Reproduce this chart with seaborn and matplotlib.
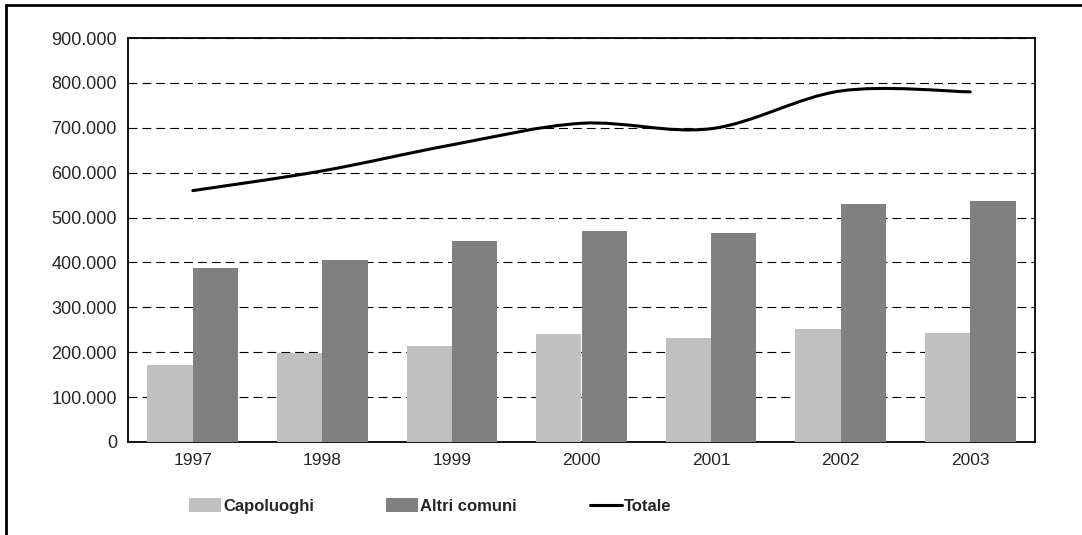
import numpy as np
import pandas as pd
import matplotlib
matplotlib.use("Agg")
import matplotlib.pyplot as plt
import seaborn as sns
from matplotlib.path import Path
from matplotlib.patches import PathPatch, Patch
from matplotlib.lines import Line2D
from matplotlib.ticker import FuncFormatter, MultipleLocator, FixedLocator

# data
anni = ["1997", "1998", "1999", "2000", "2001", "2002", "2003"]
capoluoghi = [172000, 199000, 214000, 240000, 232000, 252000, 243000]
altri_comuni = [388000, 405000, 448000, 470000, 466000, 530000, 537000]
totale = [560000, 604000, 662000, 710000, 698000, 782000, 780000]

COL_CAP = "#C0C0C0"
COL_ALT = "#808080"

sns.set_style("white")
plt.rcParams["font.family"] = ["Liberation Sans", "DejaVu Sans"]

df = pd.DataFrame({
    "anno": anni * 2,
    "valore": capoluoghi + altri_comuni,
    "serie": ["Capoluoghi"] * len(anni) + ["Altri comuni"] * len(anni),
})

fig = plt.figure(figsize=(10.82, 5.35), dpi=100)
ax = fig.add_axes([128 / 1082, 1 - 442 / 535, (1035 - 128) / 1082, (442 - 38) / 535])

sns.barplot(data=df, x="anno", y="valore", hue="serie",
            palette=[COL_CAP, COL_ALT], width=0.7, saturation=1,
            linewidth=0, legend=False, ax=ax, zorder=3)


def smooth_path(xs, ys):
    # Excel-like smoothed line: Catmull-Rom converted to cubic Bezier
    xs = np.asarray(xs, float)
    ys = np.asarray(ys, float)
    verts = [(xs[0], ys[0])]
    codes = [Path.MOVETO]
    n = len(xs)
    for i in range(n - 1):
        i0 = max(i - 1, 0)
        i3 = min(i + 2, n - 1)
        c1 = (xs[i] + (xs[i + 1] - xs[i0]) / 6, ys[i] + (ys[i + 1] - ys[i0]) / 6)
        c2 = (xs[i + 1] - (xs[i3] - xs[i]) / 6, ys[i + 1] - (ys[i3] - ys[i]) / 6)
        verts += [c1, c2, (xs[i + 1], ys[i + 1])]
        codes += [Path.CURVE4] * 3
    return Path(verts, codes)


ax.add_patch(PathPatch(smooth_path(range(len(anni)), totale), facecolor="none",
                       edgecolor="black", linewidth=2.2, zorder=4,
                       capstyle="round"))

ax.set_xlim(-0.5, len(anni) - 0.5)
ax.set_ylim(0, 900000)
ax.yaxis.set_major_locator(MultipleLocator(100000))
ax.yaxis.set_major_formatter(FuncFormatter(lambda v, p: f"{int(v):,}".replace(",", ".")))
ax.grid(axis="y", color="black", linestyle=(0, (8, 4.5)), linewidth=0.8, zorder=1)
ax.set_axisbelow(True)

# tick marks between categories, labels centred
ax.xaxis.set_major_locator(FixedLocator(np.arange(len(anni) + 1) - 0.5))
ax.xaxis.set_major_formatter(FuncFormatter(lambda v, p: ""))
ax.set_xticks(np.arange(len(anni)), labels=anni, minor=True)
ax.tick_params(axis="x", which="major", direction="out", length=5, width=1, color="black")
ax.tick_params(axis="x", which="minor", length=0, pad=8, labelsize=12.5)
ax.tick_params(axis="y", direction="out", length=5, width=1, color="black",
               labelsize=13, pad=3)
ax.set_xlabel("")
ax.set_ylabel("")
for side in ["left", "right", "top", "bottom"]:
    ax.spines[side].set_visible(True)
    ax.spines[side].set_color("black")
    ax.spines[side].set_linewidth(1.3)

handles = [Patch(facecolor=COL_CAP, edgecolor="none"),
           Patch(facecolor=COL_ALT, edgecolor="none"),
           Line2D([0], [0], color="black", linewidth=2.2)]
fig.legend(handles, ["Capoluoghi", "Altri comuni", "Totale"],
           loc="center", bbox_to_anchor=(430 / 1082, 1 - 506 / 535), ncol=3,
           frameon=False, columnspacing=4.35, handlelength=1.92, handleheight=0.84,
           handletextpad=0.12, prop={"weight": "bold", "size": 12})

# outer chart border (top and left only visible)
fig.add_artist(Line2D([6 / 1082, 1], [1 - 5 / 535, 1 - 5 / 535], color="black",
                      linewidth=2, transform=fig.transFigure))
fig.add_artist(Line2D([6 / 1082, 6 / 1082], [0, 1 - 5 / 535], color="black",
                      linewidth=2, transform=fig.transFigure))

fig.savefig("out.png", dpi=100, facecolor="white")
